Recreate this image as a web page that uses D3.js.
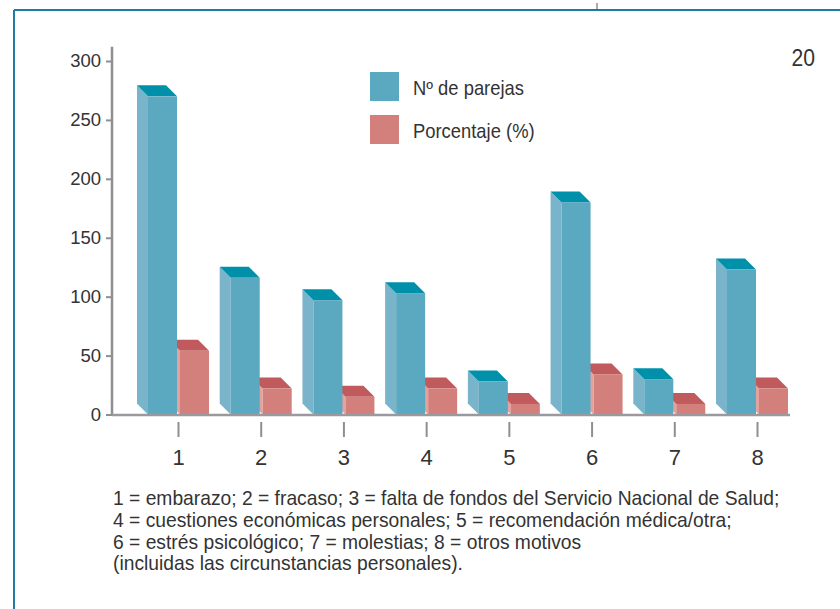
<!DOCTYPE html>
<html>
<head>
<meta charset="utf-8">
<script src="https://cdn.jsdelivr.net/npm/d3@7"></script>
<style>
  body { margin: 0; background: #fff; }
  svg text { font-family: "Liberation Sans", Arial, sans-serif; fill: #333; }
</style>
</head>
<body>
<div id="chart"></div>
<script>
// datos
var categories = ["1", "2", "3", "4", "5", "6", "7", "8"];
var parejas = [270, 116, 97, 103, 28, 180, 30, 123];
var porcentaje = [54, 22, 15, 22, 9, 34, 9, 22];
var yTicks = [0, 50, 100, 150, 200, 250, 300];
var seriesNames = ["Nº de parejas", "Porcentaje (%)"];
var notes = [
  "1 = embarazo; 2 = fracaso; 3 = falta de fondos del Servicio Nacional de Salud;",
  "4 = cuestiones económicas personales; 5 = recomendación médica/otra;",
  "6 = estrés psicológico; 7 = molestias; 8 = otros motivos",
  "(incluidas las circunstancias personales)."
];
var pageNumber = "20";

var width = 840, height = 609;

var svg = d3.select("#chart").append("svg")
  .attr("width", width)
  .attr("height", height);

// marco
svg.append("line").attr("x1", 14).attr("y1", 10).attr("x2", width).attr("y2", 10)
  .attr("stroke", "#1f7ba3").attr("stroke-width", 2);
svg.append("line").attr("x1", 14).attr("y1", 10).attr("x2", 14).attr("y2", height)
  .attr("stroke", "#1f7ba3").attr("stroke-width", 2);
svg.append("line").attr("x1", 597).attr("y1", 3).attr("x2", 597).attr("y2", 10)
  .attr("stroke", "#555").attr("stroke-width", 1);

var x = d3.scalePoint()
  .domain(categories)
  .range([178, 757]);

var y = d3.scaleLinear()
  .domain([0, 300])
  .range([414.5, 61]);

var barW = 29, depth = 11;
var colors = {
  blue: { front: "#5ba8c1", side: "#7ab4ca", top: "#0090aa" },
  red: { front: "#d3807c", side: "#e2a29d", top: "#c05a5c" }
};

function drawBar(g, x0, v, c) {
  var top = y(v), bottom = y(0);
  g.append("polygon")
    .attr("points", [[x0, top], [x0 - depth, top - depth], [x0 - depth, bottom - depth], [x0, bottom]].join(" "))
    .attr("fill", c.side);
  g.append("polygon")
    .attr("points", [[x0, top], [x0 - depth, top - depth], [x0 + barW - depth, top - depth], [x0 + barW, top]].join(" "))
    .attr("fill", c.top);
  g.append("rect")
    .attr("x", x0)
    .attr("y", top)
    .attr("width", barW)
    .attr("height", bottom - top)
    .attr("fill", c.front);
}

var bars = svg.append("g");
categories.forEach(function(cat, i) {
  var cx = x(cat);
  drawBar(bars, cx + 2, porcentaje[i], colors.red);
  drawBar(bars, cx - 30, parejas[i], colors.blue);
});

// eje y
var yAxis = d3.axisLeft(y)
  .tickValues(yTicks)
  .tickSize(6)
  .tickPadding(5);

var gy = svg.append("g")
  .attr("transform", "translate(112,0)")
  .call(yAxis);
gy.select(".domain").remove();
gy.selectAll(".tick line").attr("stroke", "#8e8e93").attr("stroke-width", 2);
gy.selectAll(".tick text").style("font-size", "18.5px").attr("fill", "#333");
gy.append("line")
  .attr("x1", 0).attr("x2", 0)
  .attr("y1", y(0) + 1).attr("y2", y(312))
  .attr("stroke", "#8e8e93").attr("stroke-width", 2.5);

// eje x
svg.append("line")
  .attr("x1", 112).attr("x2", 790)
  .attr("y1", y(0) + 0.5).attr("y2", y(0) + 0.5)
  .attr("stroke", "#9a9a9e").attr("stroke-width", 2.5);

var xAxis = d3.axisBottom(x)
  .tickSize(15)
  .tickPadding(12);

var gx = svg.append("g")
  .attr("transform", "translate(0,422)")
  .call(xAxis);
gx.select(".domain").remove();
gx.selectAll(".tick line").attr("stroke", "#8e8e93").attr("stroke-width", 2);
gx.selectAll(".tick text").style("font-size", "22px").attr("fill", "#333");

// leyenda
var legend = svg.append("g").attr("transform", "translate(370,72)");
var legendColors = [colors.blue.front, colors.red.front];
seriesNames.forEach(function(name, i) {
  legend.append("rect")
    .attr("x", 0).attr("y", i * 43)
    .attr("width", 29).attr("height", 29)
    .attr("fill", legendColors[i]);
  legend.append("text")
    .attr("transform", "translate(43," + (i * 43 + 23) + ") scale(0.92,1)")
    .style("font-size", "20px")
    .text(name);
});

svg.append("text")
  .attr("transform", "translate(815,66) scale(0.88,1)")
  .attr("text-anchor", "end")
  .style("font-size", "24px")
  .text(pageNumber);

// notas (letra estrecha: se comprime en horizontal)
var noteG = svg.append("g");
var noteText = notes.map(function(line, i) {
  return noteG.append("text")
    .attr("x", 0)
    .style("font-size", "20.5px")
    .text(line);
});
var k = 667 / noteText[0].node().getComputedTextLength();
noteText.forEach(function(t, i) {
  t.attr("transform", "translate(113," + (505 + i * 21.8) + ") scale(" + k + ",1)");
});
</script>
</body>
</html>
